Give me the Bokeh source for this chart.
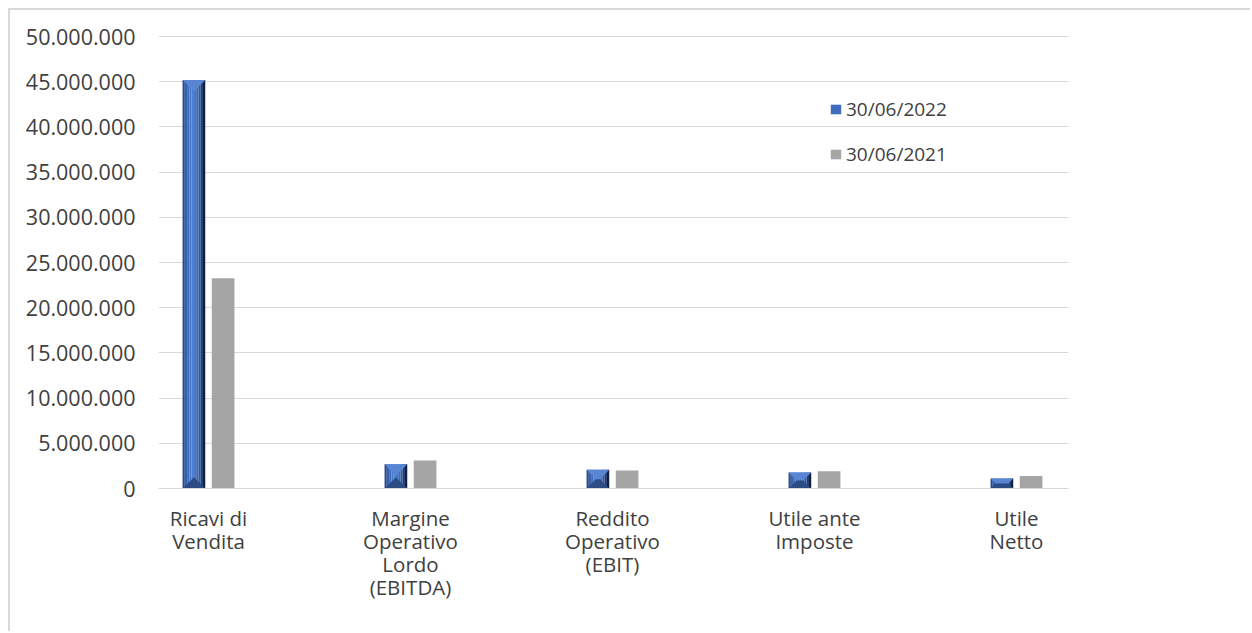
from bokeh.plotting import figure
from bokeh.models import Range1d, FixedTicker, Legend, LegendItem, ColumnDataSource
from bokeh.embed import file_html
from bokeh.resources import INLINE

# ---- data -------------------------------------------------------------
categories = ["Ricavi di\nVendita",
              "Margine\nOperativo\nLordo\n(EBITDA)",
              "Reddito\nOperativo\n(EBIT)",
              "Utile ante\nImposte",
              "Utile\nNetto"]
series_names = ["30/06/2022", "30/06/2021"]
values_2022 = [45200000, 2670000, 2070000, 1780000, 1110000]
values_2021 = [23250000, 3110000, 2000000, 1920000, 1370000]
y_ticks = list(range(0, 50000001, 5000000))

# ---- layout constants ---------------------------------------------------
EDGE = 10                        # offset of the chart-area border (margin + line)
W, H = 1252 - EDGE, 633 - EDGE
BORDER_L, BORDER_R, BORDER_T, BORDER_B = 148, 184, 25, 145
FRAME_W = W - BORDER_L - BORDER_R
FRAME_H = H - BORDER_T - BORDER_B
X_START, X_END = -0.2475, 4.2575
ux = (X_END - X_START) / FRAME_W          # data units per pixel (x)
uy = 50000000 / (FRAME_H - 1)             # data units per pixel (y)
Y_START, Y_END = 0, 50000000 + uy         # one spare pixel keeps the top grid line visible

BAR_W_PX = 22.7
BAR_W = BAR_W_PX * ux
OFFSET = 14.6 * ux
TEXT = "#404040"
FONT = "Open Sans"
GREY = "#a5a5a5"

p = figure(width=W, height=H, output_backend="svg", toolbar_location=None,
           x_range=Range1d(X_START, X_END), y_range=Range1d(Y_START, Y_END),
           min_border_left=BORDER_L, min_border_right=BORDER_R,
           min_border_top=BORDER_T, min_border_bottom=BORDER_B)
p.margin = (8, 0, 0, 8)
p.styles = {"border-top": "2px solid #d9d9d9", "border-left": "2px solid #d9d9d9"}
p.outline_line_color = None
p.background_fill_color = "white"
p.border_fill_color = "white"

# ---- axes -------------------------------------------------------------
p.yaxis.ticker = FixedTicker(ticks=y_ticks)
p.yaxis.major_label_overrides = {t: f"{t:,}".replace(",", ".") for t in y_ticks}
p.yaxis.axis_line_color = None
p.yaxis.major_tick_line_color = None
p.yaxis.minor_tick_line_color = None
p.yaxis.major_label_standoff = 17
p.yaxis.major_label_text_font = FONT
p.yaxis.major_label_text_font_size = "21.5px"
p.yaxis.major_label_text_color = TEXT

idx = list(range(len(categories)))
p.xaxis.ticker = FixedTicker(ticks=idx)
p.xaxis.major_label_overrides = {i: c for i, c in zip(idx, categories)}
p.xaxis.axis_line_color = "#d9d9d9"
p.xaxis.major_tick_line_color = None
p.xaxis.minor_tick_line_color = None
p.xaxis.major_label_standoff = 9
p.xaxis.major_label_text_font = FONT
p.xaxis.major_label_text_font_size = "20.5px"
p.xaxis.major_label_text_line_height = 0.83
p.xaxis.major_label_text_color = TEXT

p.xgrid.grid_line_color = None
p.ygrid.grid_line_color = "#d9d9d9"
p.ygrid.grid_line_width = 1

# ---- 2021 bars: flat grey ------------------------------------------------
src21 = ColumnDataSource(dict(x=[i + OFFSET for i in idx], top=values_2021))
r21 = p.vbar(x="x", top="top", bottom=0, width=BAR_W, source=src21,
             fill_color=GREY, line_color=None)

# ---- 2022 bars: bevelled blue --------------------------------------------
strip_colors = ["#2b4c8a", "#3761ad", "#3f6dbe", "#4676c9", "#4a7bcf",
                "#4777c9", "#3f6bb9", "#3359a0", "#243f73", "#13203c"]
n = len(strip_colors)
sl, sr, st, sc = [], [], [], []
top_xs, top_ys, bot_xs, bot_ys = [], [], [], []
for i, v in zip(idx, values_2022):
    x0 = i - OFFSET - BAR_W / 2
    x1 = i - OFFSET + BAR_W / 2
    for k in range(n):
        sl.append(x0 + k * BAR_W / n)
        sr.append(x0 + (k + 1) * BAR_W / n)
        st.append(v)
        sc.append(strip_colors[k])
    # bevel depth in pixels, limited by the bar's width and height
    h_px = v / uy
    d_px = min(BAR_W_PX / 2, h_px / 2)
    dx, dy = d_px * ux, d_px * uy
    top_xs.append([x0, x1, x1 - dx, x0 + dx])
    top_ys.append([v, v, v - dy, v - dy])
    bot_xs.append([x0, x1, x1 - dx, x0 + dx])
    bot_ys.append([0, 0, dy, dy])

r22 = p.quad(left="l", right="r", top="t", bottom=0,
             source=ColumnDataSource(dict(l=sl, r=sr, t=st, c=sc)),
             fill_color="c", line_color=None)
p.patches(top_xs, top_ys, fill_color="#5886d4", line_color=None)
p.patches(bot_xs, bot_ys, fill_color="#2d4c84", line_color=None)

# ---- legend -----------------------------------------------------------
legend = Legend(items=[LegendItem(label=series_names[0], renderers=[r22], index=2),
                       LegendItem(label=series_names[1], renderers=[r21], index=0)],
                location=(671, 321), orientation="vertical",
                padding=0, margin=0, spacing=19,
                glyph_width=13, glyph_height=12, label_height=20,
                label_standoff=4,
                label_text_font=FONT, label_text_font_size="19px",
                label_text_color=TEXT,
                border_line_alpha=0, background_fill_alpha=0)
p.add_layout(legend)

open("out.html", "w").write(file_html(p, INLINE))
